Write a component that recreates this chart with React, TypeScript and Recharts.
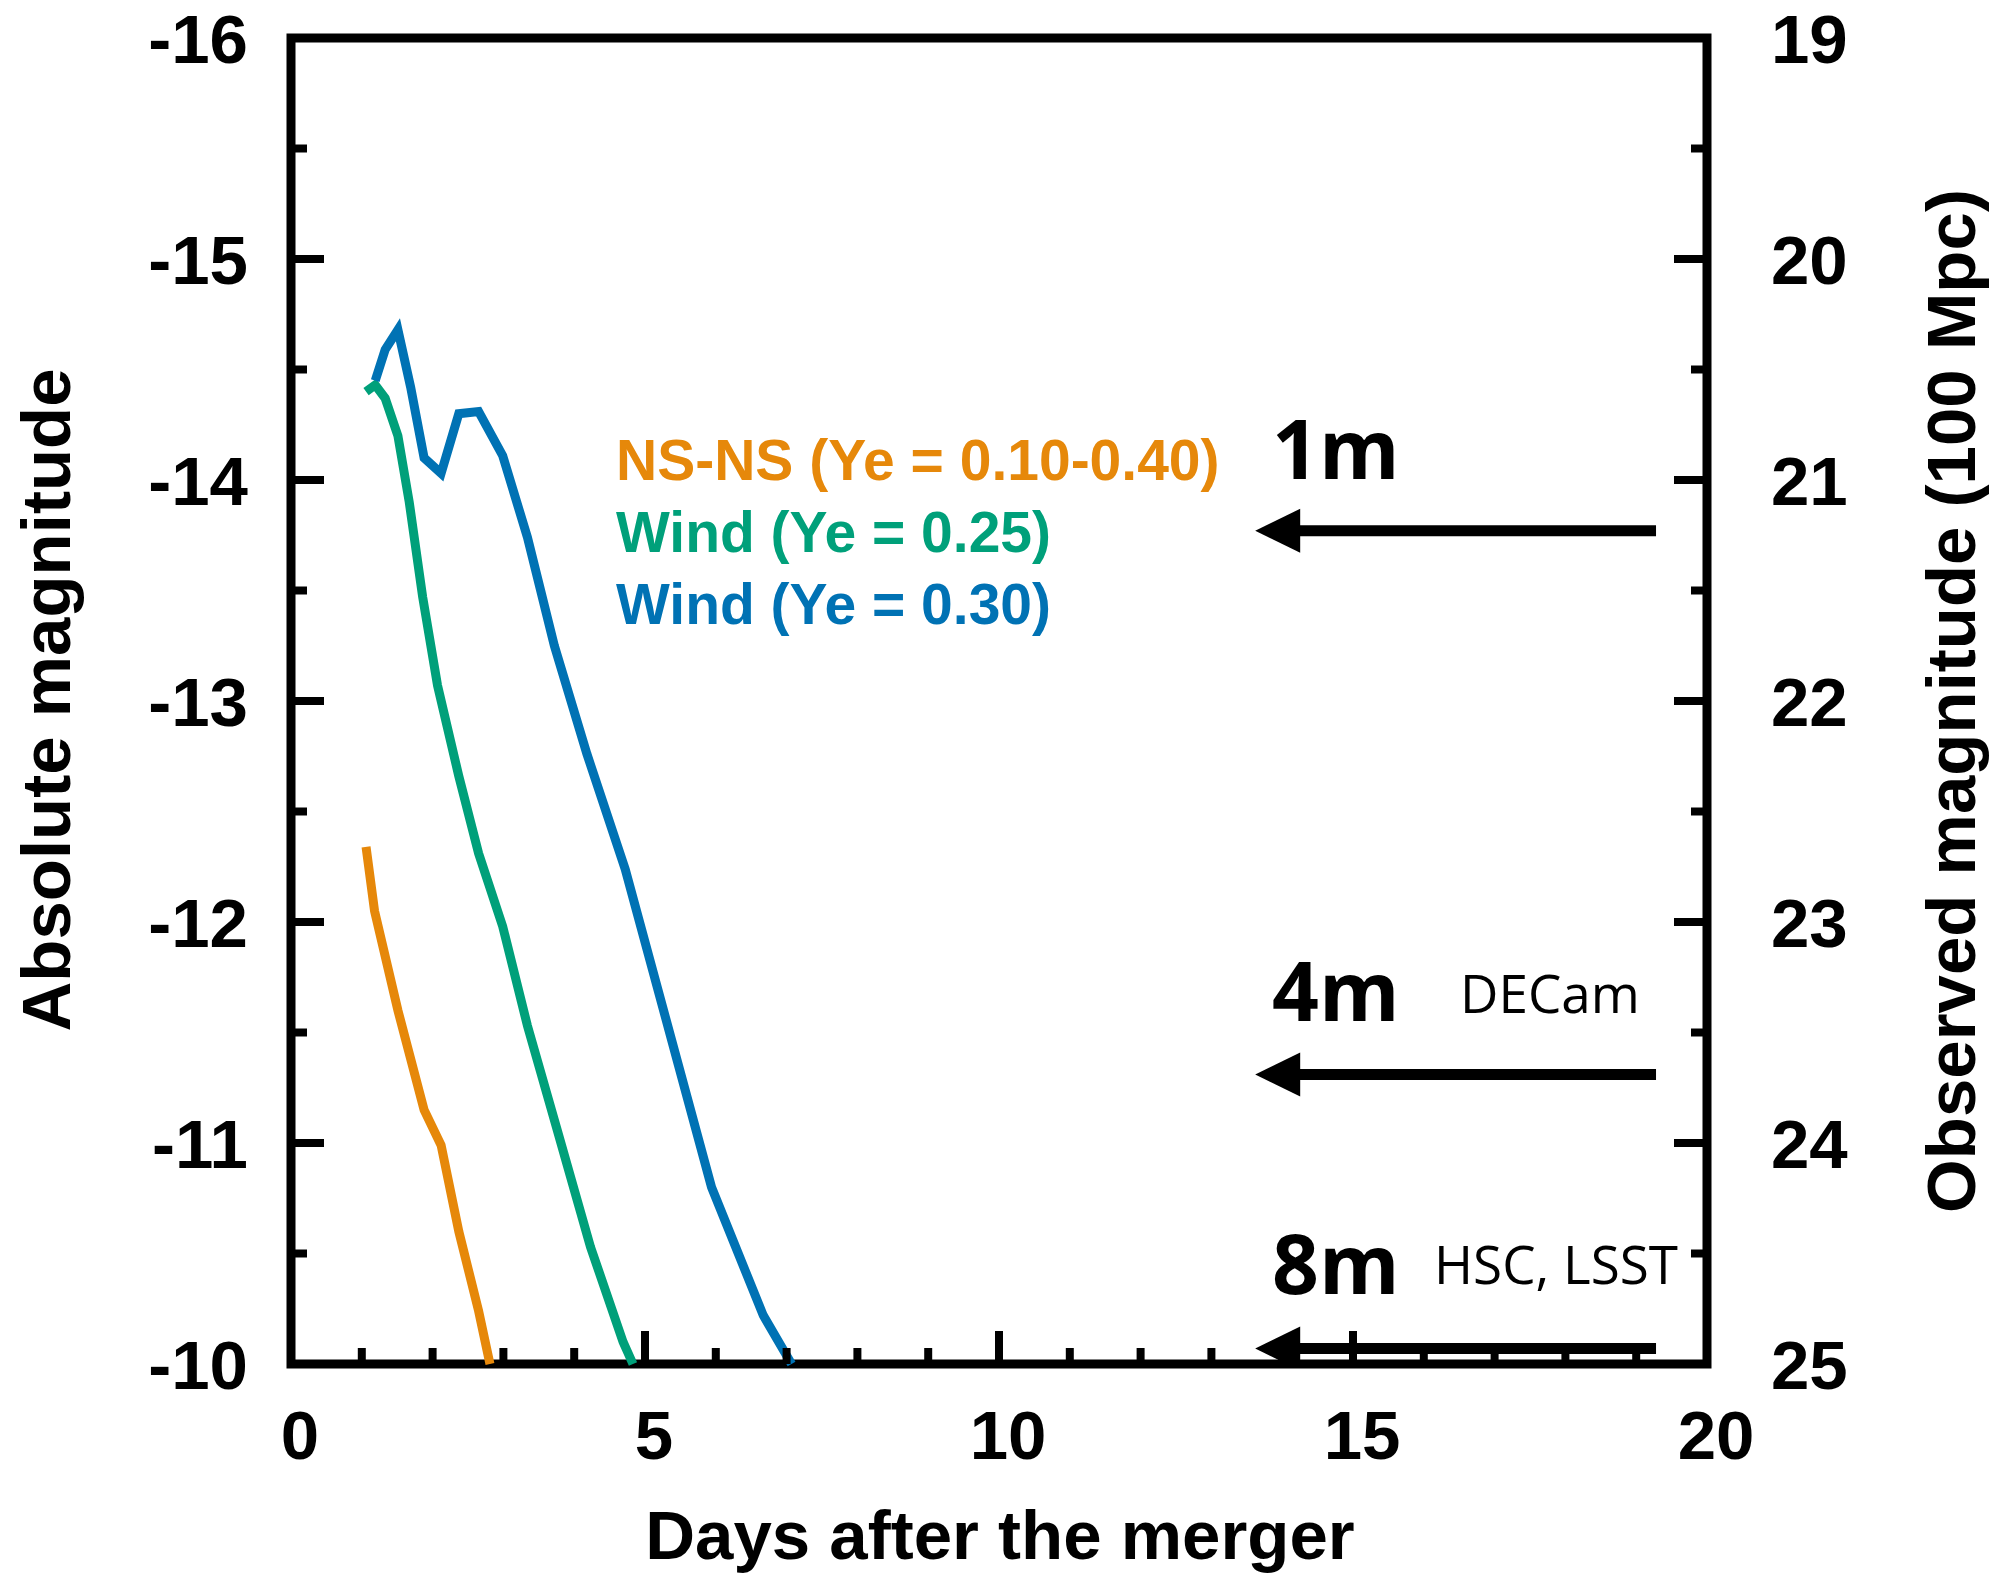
import { LineChart, Line, XAxis, YAxis, ReferenceArea } from "recharts";

// light curves: days after merger vs absolute magnitude
const nsnsDays = [1.06, 1.18, 1.51, 1.88, 2.12, 2.37, 2.65, 2.81];
const nsnsMag = [-12.34, -12.05, -11.6, -11.15, -10.99, -10.6, -10.24, -10.0];

const wind25Days = [1.06, 1.19, 1.33, 1.51, 1.67, 1.86, 2.07, 2.37, 2.65, 2.99, 3.34, 3.75, 4.23, 4.69, 4.83];
const wind25Mag = [-14.4, -14.43, -14.37, -14.2, -13.9, -13.47, -13.07, -12.66, -12.31, -11.98, -11.53, -11.07, -10.53, -10.1, -10.0];

const wind30Days = [1.19, 1.33, 1.51, 1.69, 1.88, 2.12, 2.37, 2.65, 2.99, 3.34, 3.72, 4.18, 4.72, 5.94, 6.67, 7.07];
const wind30Mag = [-14.45, -14.59, -14.68, -14.42, -14.1, -14.03, -14.3, -14.31, -14.11, -13.74, -13.25, -12.76, -12.24, -10.8, -10.22, -10.0];

// telescope depth limits (observed magnitude at 100 Mpc)
const telescopes = ["1m", "4m", "8m"];
const telescopeLimits = [21.23, 23.69, 24.93];
const arrowDays = [19.28, 14.24];

const dayTicks = [0, 1, 2, 3, 4, 5, 6, 7, 8, 9, 10, 11, 12, 13, 14, 15, 16, 17, 18, 19, 20];
const absTicks = [-16, -15.5, -15, -14.5, -14, -13.5, -13, -12.5, -12, -11.5, -11, -10.5, -10];
const obsTicks = [19, 19.5, 20, 20.5, 21, 21.5, 22, 22.5, 23, 23.5, 24, 24.5, 25];

const ORANGE = "#E6880A";
const GREEN = "#00A07A";
const BLUE = "#0072B4";

const toPoints = (xs: number[], ys: number[]) => xs.map((x, i) => ({ day: x, mag: ys[i] }));

const nsns = toPoints(nsnsDays, nsnsMag);
const wind25 = toPoints(wind25Days, wind25Mag);
const wind30 = toPoints(wind30Days, wind30Mag);

const numFont = {
  fontFamily: "'Liberation Sans', Arial, sans-serif",
  fontWeight: 700,
  fontSize: 69,
  fill: "#000",
};

const TICK_W = 8;

function BottomTick(props: any) {
  const { x, y, payload } = props;
  const v = payload.value;
  const major = v % 5 === 0;
  return (
    <g>
      <line x1={x} x2={x} y1={y} y2={y - (major ? 33 : 16)} stroke="#000" strokeWidth={TICK_W} />
      {major && (
        <text x={x + 9} y={y + 95} textAnchor="middle" {...numFont}>
          {v}
        </text>
      )}
    </g>
  );
}

function TopTick(props: any) {
  const { x, y, payload } = props;
  const major = payload.value % 5 === 0;
  return <line x1={x} x2={x} y1={y} y2={y + (major ? 33 : 16)} stroke="#000" strokeWidth={TICK_W} />;
}

function LeftTick(props: any) {
  const { x, y, payload } = props;
  const v = payload.value;
  const major = Number.isInteger(v);
  return (
    <g>
      <line x1={x} x2={x + (major ? 33 : 16)} y1={y} y2={y} stroke="#000" strokeWidth={TICK_W} />
      {major && (
        <text x={x - 43} y={y} dy="0.36em" textAnchor="end" {...numFont}>
          {v}
        </text>
      )}
    </g>
  );
}

function RightTick(props: any) {
  const { x, y, payload } = props;
  const v = payload.value;
  const major = Number.isInteger(v);
  return (
    <g>
      <line x1={x} x2={x - (major ? 33 : 16)} y1={y} y2={y} stroke="#000" strokeWidth={TICK_W} />
      {major && (
        <text x={x + 64} y={y} dy="0.36em" textAnchor="start" {...numFont}>
          {v}
        </text>
      )}
    </g>
  );
}

// arrow head drawn at the left end of each limit line
function ArrowHead(props: any) {
  const { cx, cy, index } = props;
  if (index !== 1 || cx == null) return <g />;
  return <polygon points={`${cx + 1},${cy - 22} ${cx - 44},${cy} ${cx + 1},${cy + 22}`} fill="#000" />;
}

const titleFont = {
  fontFamily: "'Liberation Sans', Arial, sans-serif",
  fontWeight: 700,
  fontSize: 69,
  fill: "#000",
};

const legendFont = {
  fontFamily: "'Liberation Sans', Arial, sans-serif",
  fontWeight: 700,
  fontSize: 57,
};

const sizeFont = {
  fontFamily: "'Open Sans', sans-serif",
  fontWeight: 700,
  fontSize: 82,
  fill: "#000",
};

const camFont = {
  fontFamily: "'Open Sans', sans-serif",
  fontWeight: 400,
  fontSize: 53,
  fill: "#000",
};

const sizeLabelY = [479, 1021, 1294];
const CURVE_W = 9;

export default function App() {
  return (
    <div style={{ position: "absolute", left: 0, top: 0, background: "#fff" }}>
      <LineChart width={2001} height={1574} margin={{ top: 0, right: 0, bottom: 0, left: 0 }}>
        <XAxis
          xAxisId="days"
          dataKey="day"
          type="number"
          domain={[0, 20]}
          ticks={dayTicks}
          interval={0}
          height={210}
          axisLine={false}
          tickLine={false}
          tickSize={0}
          tickMargin={0}
          tick={<BottomTick />}
        />
        <XAxis
          xAxisId="top"
          orientation="top"
          type="number"
          domain={[0, 20]}
          allowDataOverflow
          ticks={dayTicks}
          interval={0}
          height={38}
          axisLine={false}
          tickLine={false}
          tickSize={0}
          tickMargin={0}
          tick={<TopTick />}
        />
        <YAxis
          yAxisId="abs"
          type="number"
          domain={[-16, -10]}
          reversed
          ticks={absTicks}
          interval={0}
          width={291}
          axisLine={false}
          tickLine={false}
          tickSize={0}
          tickMargin={0}
          tick={<LeftTick />}
        />
        <YAxis
          yAxisId="obs"
          orientation="right"
          type="number"
          domain={[19, 25]}
          reversed
          allowDataOverflow
          ticks={obsTicks}
          interval={0}
          width={294}
          axisLine={false}
          tickLine={false}
          tickSize={0}
          tickMargin={0}
          tick={<RightTick />}
        />

        <Line
          xAxisId="days"
          yAxisId="abs"
          data={nsns}
          dataKey="mag"
          type="linear"
          stroke={ORANGE}
          strokeWidth={CURVE_W}
          strokeLinejoin="miter"
          dot={false}
          isAnimationActive={false}
        />
        <Line
          xAxisId="days"
          yAxisId="abs"
          data={wind25}
          dataKey="mag"
          type="linear"
          stroke={GREEN}
          strokeWidth={CURVE_W}
          strokeLinejoin="miter"
          dot={false}
          isAnimationActive={false}
        />
        <Line
          xAxisId="days"
          yAxisId="abs"
          data={wind30}
          dataKey="mag"
          type="linear"
          stroke={BLUE}
          strokeWidth={CURVE_W}
          strokeLinejoin="miter"
          dot={false}
          isAnimationActive={false}
        />

        {telescopeLimits.map((lim, i) => (
          <Line
            key={telescopes[i]}
            xAxisId="days"
            yAxisId="obs"
            data={arrowDays.map((d) => ({ day: d, mag: lim }))}
            dataKey="mag"
            type="linear"
            stroke="#000"
            strokeWidth={11}
            dot={<ArrowHead />}
            isAnimationActive={false}
          />
        ))}

        <ReferenceArea
          xAxisId="days"
          yAxisId="abs"
          x1={0}
          x2={20}
          y1={-16}
          y2={-10}
          fill="none"
          fillOpacity={0}
          stroke="#000"
          strokeWidth={9}
          ifOverflow="visible"
        />

        {/* axis titles */}
        <text x={1000} y={1559} textAnchor="middle" {...titleFont}>
          Days after the merger
        </text>
        <text transform="translate(70,700) rotate(-90)" textAnchor="middle" {...titleFont}>
          Absolute magnitude
        </text>
        <text transform="translate(1975,701) rotate(-90)" textAnchor="middle" {...titleFont}>
          Observed magnitude (100 Mpc)
        </text>

        {/* series labels */}
        <text x={616} y={480} fill={ORANGE} {...legendFont}>
          NS-NS (Ye = 0.10-0.40)
        </text>
        <text x={616} y={552} fill={GREEN} {...legendFont}>
          Wind (Ye = 0.25)
        </text>
        <text x={616} y={624} fill={BLUE} {...legendFont}>
          Wind (Ye = 0.30)
        </text>

        {/* telescope classes */}
        {telescopes.map((t, i) => (
          <text key={t} x={1272} y={sizeLabelY[i]} {...sizeFont}>
            {t}
          </text>
        ))}
        <text x={1460} y={1013} {...camFont}>
          DECam
        </text>
        <text x={1434} y={1284} {...camFont}>
          HSC, LSST
        </text>
      </LineChart>
    </div>
  );
}
